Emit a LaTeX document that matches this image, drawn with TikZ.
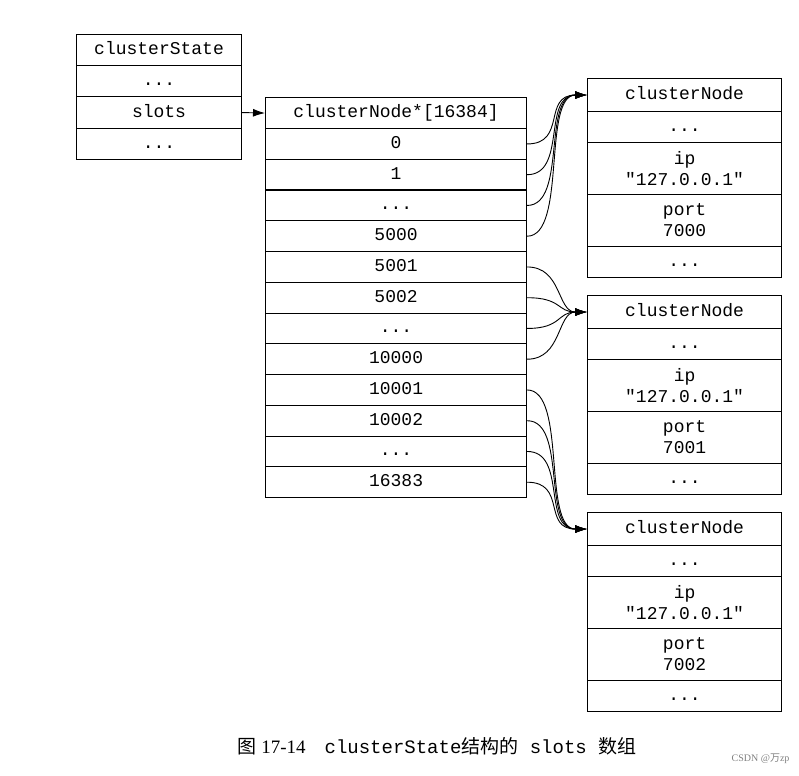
\documentclass[tikz,border=0pt]{standalone}
\usepackage{fontspec}
\setmainfont{Liberation Serif}
\setmonofont{Liberation Mono}
\newfontfamily\cjk{Noto Sans CJK SC}
\usetikzlibrary{arrows.meta}
\newcommand\mydts{...}
\begin{document}
\begin{tikzpicture}[x=1pt,y=-1pt,
  cell/.style={draw,line width=1.1pt,anchor=north west,inner sep=0pt,font=\fontsize{18}{20}\selectfont\ttfamily,align=center},
  one/.style={cell,text height=12pt,text depth=3pt},
  link/.style={line width=0.9pt,-{Latex[length=12pt,width=8pt]}}]
\useasboundingbox (0,0) rectangle (799,775);
% clusterState
\node[one,minimum width=165pt,minimum height=31pt] (cs0) at (76,34) {clusterState};
\node[one,minimum width=165pt,minimum height=31pt] (cs1) at (76,65) {...};
\node[one,minimum width=165pt,minimum height=32pt] (cs2) at (76,96) {slots};
\node[one,minimum width=165pt,minimum height=31pt] (cs3) at (76,128) {...};
% slots array
\node[one,minimum width=261pt,minimum height=31pt] (h) at (265,97) {clusterNode*[16384]};
\foreach \t [count=\i from 1] in {0,1,\mydts,5000,5001,5002,\mydts,10000,10001,10002,\mydts,16383}{
  \node[one,minimum width=261pt,minimum height=30.8pt] (r\i) at (265,{128+(\i-1)*30.75}) {\t};
}
\draw[link] (cs2.east) -- (h.west);
% cluster nodes
\foreach \n/\y/\p in {1/78/7000,2/295/7001,3/512/7002}{
  \node[one,minimum width=194pt,minimum height=33pt] (n\n) at (587,\y) {clusterNode};
  \node[one,minimum width=194pt,minimum height=31pt] (n\n a) at (587,\y+33) {\mydts};
  \node[cell,minimum width=194pt,minimum height=52pt] (n\n b) at (587,\y+64) {ip\\[1pt]"127.0.0.1"};
  \node[cell,minimum width=194pt,minimum height=52pt] (n\n c) at (587,\y+116) {port\\[1pt]\p};
  \node[one,minimum width=194pt,minimum height=31pt] (n\n d) at (587,\y+168) {\mydts};
}
\foreach \i in {1,2,3,4}{\draw[link] (r\i.east) .. controls +(40,0) and +(-45,0) .. (n1.west);}
\foreach \i in {5,6,7,8}{\draw[link] (r\i.east) .. controls +(35,0) and +(-30,0) .. (n2.west);}
\foreach \i in {9,10,11,12}{\draw[link] (r\i.east) .. controls +(40,0) and +(-45,0) .. (n3.west);}
% caption
\node[anchor=west,font=\fontsize{19}{21}\selectfont] (cap) at (234,746) {{\cjk 图} 17-14\quad \ttfamily clusterState{\cjk 结构的} slots {\cjk 数组}};
\node[anchor=east,text=gray,font=\fontsize{10}{12}\selectfont] (wm) at (793,759) {CSDN @{\cjk 万}zp};
\end{tikzpicture}
\end{document}
